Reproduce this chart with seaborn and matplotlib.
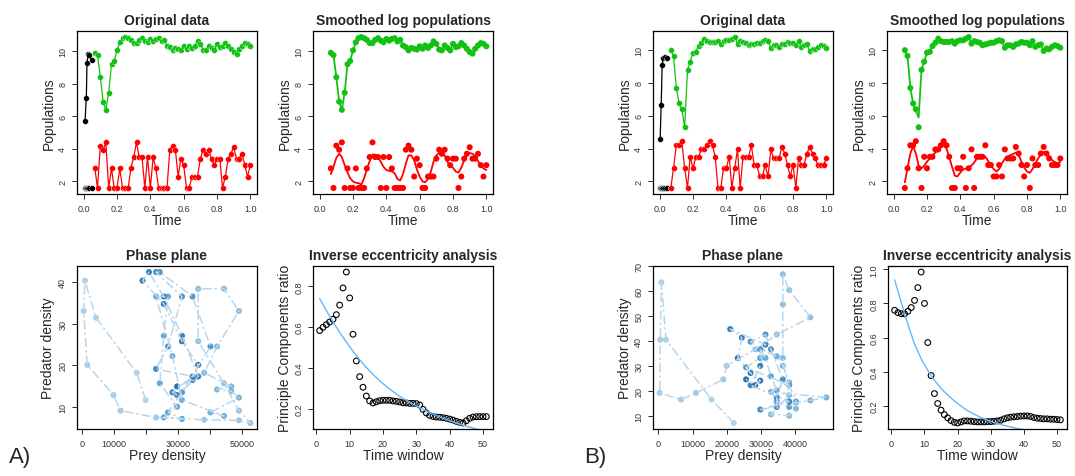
import numpy as np
import pandas as pd
import matplotlib
matplotlib.use("Agg")
import matplotlib.pyplot as plt
from matplotlib.colors import LinearSegmentedColormap
import seaborn as sns

# ---------------- data ----------------
time = [0.067, 0.083, 0.100, 0.117, 0.133, 0.150, 0.167, 0.183, 0.200, 0.217,
        0.233, 0.250, 0.267, 0.283, 0.300, 0.317, 0.333, 0.350, 0.367, 0.383,
        0.400, 0.417, 0.433, 0.450, 0.467, 0.483, 0.500, 0.517, 0.533, 0.550,
        0.567, 0.583, 0.600, 0.617, 0.633, 0.650, 0.667, 0.683, 0.700, 0.717,
        0.733, 0.750, 0.767, 0.783, 0.800, 0.817, 0.833, 0.850, 0.867, 0.883,
        0.900, 0.917, 0.933, 0.950, 0.967, 0.983, 1.000]

# --- panel A ---
black_time_a = [0.008, 0.016, 0.020, 0.028, 0.034, 0.048]
black_prey_a = [5.7, 7.15, 9.3, 9.85, 9.75, 9.45]
black_pred_a = [1.6, 1.6, 1.6, 1.6, 1.6, 1.6]
prey_a = [9.9, 9.75, 8.4, 6.9, 6.4, 7.45, 9.2, 9.4, 10.05, 10.55,
          10.8, 10.87, 10.8, 10.7, 10.5, 10.5, 10.7, 10.8, 10.65, 10.55,
          10.75, 10.65, 10.75, 10.8, 10.6, 10.7, 10.35, 10.25, 10.05, 10.2,
          10.15, 10.1, 10.3, 10.15, 10.35, 10.2, 10.35, 10.6, 10.45, 10.1,
          10.05, 10.35, 10.2, 10.05, 10.45, 10.25, 10.3, 10.5, 10.35, 10.15,
          9.95, 9.85, 10.15, 10.35, 10.5, 10.45, 10.3]
pred_a = [2.8, 1.6, 4.2, 3.95, 4.4, 1.6, 2.8, 1.6, 1.6, 2.8,
          1.6, 1.6, 1.6, 2.8, 3.5, 4.4, 3.5, 3.5, 1.6, 3.5,
          1.6, 3.5, 2.8, 1.6, 1.6, 1.6, 1.6, 3.95, 4.2, 3.95,
          2.3, 3.4, 3.0, 1.6, 1.6, 2.3, 2.3, 2.3, 3.4, 3.95,
          3.7, 3.95, 3.4, 3.0, 3.4, 3.4, 1.6, 2.3, 3.4, 3.7,
          4.1, 3.4, 3.4, 3.7, 3.0, 2.3, 3.0]
prey_smooth_a = prey_a
pred_smooth_a = [2.45, 2.9, 3.45, 3.7, 3.5, 3.0, 2.55, 2.2, 2.0, 1.92,
                 1.9, 1.8, 2.2, 2.75, 3.25, 3.65, 3.65, 3.5, 3.2, 2.9,
                 2.7, 2.65, 2.62, 2.5, 2.15, 2.05, 2.45, 3.1, 3.6, 3.6,
                 3.3, 2.75, 2.3, 2.0, 1.95, 2.15, 2.6, 3.2, 3.6, 3.75,
                 3.75, 3.6, 3.2, 2.95, 2.85, 2.6, 2.55, 2.85, 3.3, 3.6,
                 3.75, 3.7, 3.55, 3.25, 3.0, 2.8, 2.7]
window = list(range(1, 52))
ratio_a = [0.583, 0.599, 0.612, 0.625, 0.638, 0.661, 0.708, 0.792, 0.870, 0.743,
           0.565, 0.434, 0.357, 0.305, 0.262, 0.238, 0.228, 0.234, 0.239, 0.241,
           0.241, 0.241, 0.238, 0.236, 0.233, 0.229, 0.228, 0.226, 0.226, 0.225,
           0.218, 0.197, 0.179, 0.167, 0.162, 0.159, 0.158, 0.156, 0.153, 0.149,
           0.144, 0.138, 0.133, 0.130, 0.141, 0.153, 0.159, 0.161, 0.161, 0.161,
           0.161]
fit_window = [1, 3, 5, 7, 9, 11, 13, 15, 17, 19, 21, 23, 25, 27, 29, 31, 33,
              35, 37, 39, 41, 43, 45, 47, 49, 51]
fit_a = [0.740, 0.681, 0.626, 0.574, 0.527, 0.482, 0.440, 0.402, 0.368, 0.337,
         0.309, 0.284, 0.261, 0.241, 0.222, 0.205, 0.189, 0.174, 0.160, 0.147,
         0.135, 0.124, 0.114, 0.105, 0.096, 0.088]

# --- panel B ---
black_time_b = [0.003, 0.009, 0.015, 0.021, 0.029, 0.043]
black_prey_b = [4.6, 6.64, 9.12, 9.53, 9.59, 9.53]
black_pred_b = [1.6, 1.6, 1.6, 1.6, 1.6, 1.6]
prey_b = [10.0, 9.65, 7.7, 6.75, 6.4, 5.3, 8.8, 9.3, 9.85, 9.9,
          10.25, 10.45, 10.7, 10.55, 10.5, 10.5, 10.5, 10.55, 10.4, 10.55,
          10.6, 10.6, 10.7, 10.8, 10.4, 10.55, 10.5, 10.45, 10.3, 10.35,
          10.4, 10.45, 10.45, 10.55, 10.6, 10.55, 10.15, 10.3, 10.3, 10.2,
          10.35, 10.4, 10.5, 10.45, 10.45, 10.3, 10.55, 10.2, 10.3, 10.35,
          9.95, 10.1, 10.05, 10.2, 10.3, 10.25, 10.15]
pred_b = [1.6, 2.8, 4.2, 4.2, 4.45, 2.8, 1.6, 3.5, 2.8, 3.5,
          3.5, 3.95, 3.95, 4.2, 4.45, 4.2, 3.5, 1.6, 1.6, 2.8,
          2.8, 3.5, 1.6, 2.8, 3.95, 1.6, 3.5, 3.5, 3.5, 4.2,
          3.0, 3.0, 2.3, 2.3, 3.0, 2.3, 3.95, 3.4, 3.4, 3.4,
          4.1, 3.7, 3.0, 2.3, 3.0, 1.6, 3.4, 3.0, 3.0, 3.7,
          4.1, 3.7, 3.4, 3.0, 3.0, 3.0, 3.4]
prey_smooth_b = [10.0, 9.65, 7.7, 6.75, 6.3, 5.9, 8.8, 9.3, 9.85, 9.9,
                 10.25, 10.45, 10.7, 10.55, 10.5, 10.5, 10.5, 10.55, 10.4, 10.55,
                 10.6, 10.6, 10.7, 10.8, 10.4, 10.55, 10.5, 10.45, 10.3, 10.35,
                 10.4, 10.45, 10.45, 10.55, 10.6, 10.55, 10.15, 10.3, 10.3, 10.2,
                 10.35, 10.4, 10.5, 10.45, 10.45, 10.3, 10.55, 10.2, 10.3, 10.35,
                 9.95, 10.1, 10.05, 10.2, 10.3, 10.25, 10.15]
pred_smooth_b = [1.95, 2.8, 3.7, 4.15, 3.7, 2.95, 2.8, 2.95, 3.2, 3.4,
                 3.6, 3.75, 3.9, 4.1, 4.2, 4.0, 3.5, 2.9, 2.35, 2.3,
                 2.55, 2.72, 2.78, 2.85, 2.97, 3.15, 3.4, 3.52, 3.6, 3.5,
                 3.25, 3.0, 2.75, 2.6, 2.75, 3.1, 3.38, 3.5, 3.6, 3.68,
                 3.75, 3.6, 3.2, 2.85, 2.6, 2.52, 2.75, 3.1, 3.4, 3.65,
                 3.8, 3.72, 3.5, 3.3, 3.18, 3.1, 3.2]
ratio_b = [0.760, 0.746, 0.740, 0.739, 0.754, 0.776, 0.818, 0.893, 0.984, 0.800,
           0.571, 0.378, 0.272, 0.214, 0.175, 0.149, 0.130, 0.114, 0.104, 0.100,
           0.106, 0.112, 0.112, 0.110, 0.108, 0.106, 0.106, 0.106, 0.108, 0.108,
           0.110, 0.112, 0.116, 0.124, 0.130, 0.134, 0.136, 0.138, 0.140, 0.141,
           0.141, 0.138, 0.132, 0.128, 0.126, 0.124, 0.124, 0.122, 0.122, 0.120,
           0.118]
fit_b = [0.938, 0.805, 0.677, 0.563, 0.476, 0.408, 0.350, 0.302, 0.264, 0.229,
         0.199, 0.172, 0.151, 0.132, 0.116, 0.103, 0.091, 0.081, 0.072, 0.064,
         0.057, 0.051, 0.046, 0.041, 0.037, 0.033]

time_ticks = [0.0, 0.2, 0.4, 0.6, 0.8, 1.0]
pop_ticks = [2, 4, 6, 8, 10]

# ---------------- style ----------------
sns.set_style("white")
plt.rcParams["font.family"] = ["Liberation Sans", "DejaVu Sans"]

GREEN = "#12c212"
RED = "#ff0000"
LINE_BLUE = "#b9d6ec"
FIT_BLUE = "#63b8ff"
phase_cmap = LinearSegmentedColormap.from_list("ph", ["#b2d3ea", "#6aaed6", "#2272b5"])

W, H = 1075, 477
fig = plt.figure(figsize=(W / 100, H / 100), dpi=100)


def add_ax(l, t, r, b):
    return fig.add_axes([l / W, 1 - b / H, (r - l) / W, (b - t) / H])


def style(ax, title, xlabel, ylabel):
    ax.set_title(title, fontsize=10, fontweight="bold", pad=5)
    ax.set_xlabel(xlabel, fontsize=10, labelpad=0)
    ax.set_ylabel(ylabel, fontsize=10, labelpad=2)
    for s in ax.spines.values():
        s.set_visible(True)
        s.set_linewidth(0.9)
        s.set_color("black")
    ax.tick_params(axis="both", direction="out", length=3.5, width=0.7,
                   labelsize=6.5, labelcolor="#333333", pad=3.5,
                   bottom=True, left=True)
    ax.tick_params(axis="y", labelrotation=90)
    for lab in ax.get_yticklabels():
        lab.set_va("center")


def r_limits(vals):
    lo, hi = min(vals), max(vals)
    r = hi - lo
    return lo - 0.04 * r, hi + 0.04 * r


def time_panel(ax, title, prey, pred, btime=None, bprey=None, bpred=None,
               sprey=None, spred=None):
    if btime is not None:
        sns.lineplot(x=btime, y=bprey, color="black", lw=0.9, ax=ax, sort=False, estimator=None)
        sns.lineplot(x=btime, y=bpred, color="black", lw=0.9, ax=ax, sort=False, estimator=None)
        sns.lineplot(x=time, y=prey, color=GREEN, lw=0.9, ax=ax, sort=False, estimator=None)
        sns.lineplot(x=time, y=pred, color=RED, lw=0.9, ax=ax, sort=False, estimator=None)
        sns.scatterplot(x=btime, y=bprey, color="black", s=18, linewidth=0.35, edgecolor="white", ax=ax)
        sns.scatterplot(x=btime, y=bpred, color="black", s=18, linewidth=0.35, edgecolor="white", ax=ax)
        ew, ec = 0.35, "white"
    else:
        sns.lineplot(x=time, y=sprey, color=GREEN, lw=1.3, ax=ax, sort=False, estimator=None)
        sns.lineplot(x=time, y=spred, color=RED, lw=1.3, ax=ax, sort=False, estimator=None)
        ew, ec = 0, "none"
    sns.scatterplot(x=time, y=prey, color=GREEN, s=19, linewidth=ew, edgecolor=ec, ax=ax)
    sns.scatterplot(x=time, y=pred, color=RED, s=19, linewidth=ew, edgecolor=ec, ax=ax)
    ax.set_xlim(-0.04, 1.04)
    allv = list(prey) + list(pred) + (list(bprey) + list(bpred) if bprey else [])
    ax.set_ylim(*r_limits(allv))
    ax.set_xticks(time_ticks)
    ax.set_xticklabels([f"{v:.1f}" for v in time_ticks])
    ax.set_yticks(pop_ticks)
    ax.set_yticklabels([str(v) for v in pop_ticks])
    style(ax, title, "Time", "Populations")


def phase_panel(ax, sprey, spred, xticks, xlabels, yticks):
    px = list(np.exp(sprey))
    py = list(np.exp(spred))
    idx = list(range(len(px)))
    sns.lineplot(x=px, y=py, sort=False, estimator=None, color=LINE_BLUE, lw=1.1,
                 linestyle=(0, (6, 2, 1.5, 2)), ax=ax)
    sns.scatterplot(x=px, y=py, hue=idx, palette=phase_cmap, hue_norm=(0, len(px) - 1),
                    s=19, linewidth=0, legend=False, ax=ax)
    ax.set_xlim(*r_limits(px))
    ax.set_ylim(*r_limits(py))
    ax.set_xticks(xticks)
    ax.set_xticklabels(xlabels)
    ax.set_yticks(yticks)
    ax.set_yticklabels([str(v) for v in yticks])
    style(ax, "Phase plane", "Prey density", "Predator density")


def ecc_panel(ax, ratio, fit, yticks):
    sns.scatterplot(x=window, y=ratio, facecolor="none", edgecolor="black",
                    linewidth=0.8, s=17, ax=ax)
    sns.lineplot(x=fit_window, y=fit, color=FIT_BLUE, lw=1.0, ax=ax, sort=False, estimator=None)
    ax.set_xlim(*r_limits(window))
    ax.set_ylim(*r_limits(ratio))
    ax.set_xticks([0, 10, 20, 30, 40, 50])
    ax.set_xticklabels(["0", "10", "20", "30", "40", "50"])
    ax.set_yticks(yticks)
    ax.set_yticklabels([f"{v:.1f}" for v in yticks])
    style(ax, "Inverse eccentricity analysis", "Time window", "Principle Components ratio")


# ---------------- panel A ----------------
ax = add_ax(77, 32, 257, 195)
time_panel(ax, "Original data", prey_a, pred_a, black_time_a, black_prey_a, black_pred_a)
ax = add_ax(313, 32, 493, 195)
time_panel(ax, "Smoothed log populations", prey_a, pred_a, sprey=prey_smooth_a, spred=pred_smooth_a)
ax = add_ax(77, 267, 257, 430)
phase_panel(ax, prey_smooth_a, pred_smooth_a,
            [0, 10000, 20000, 30000, 40000, 50000],
            ["0", "10000", "", "30000", "", "50000"], [10, 20, 30, 40])
ax = add_ax(313, 267, 493, 430)
ecc_panel(ax, ratio_a, fit_a, [0.2, 0.4, 0.6, 0.8])

# ---------------- panel B ----------------
ax = add_ax(653, 32, 833, 195)
time_panel(ax, "Original data", prey_b, pred_b, black_time_b, black_prey_b, black_pred_b)
ax = add_ax(887, 32, 1067, 195)
time_panel(ax, "Smoothed log populations", prey_b, pred_b, sprey=prey_smooth_b, spred=pred_smooth_b)
ax = add_ax(653, 267, 833, 430)
phase_panel(ax, prey_smooth_b, pred_smooth_b,
            [0, 10000, 20000, 30000, 40000],
            ["0", "10000", "20000", "30000", "40000"], [10, 20, 30, 40, 50, 60, 70])
ax = add_ax(888, 267, 1067, 430)
ecc_panel(ax, ratio_b, fit_b, [0.2, 0.4, 0.6, 0.8, 1.0])

fig.text(9 / W, 1 - 458 / H, "A)", fontsize=16, va="center", ha="left")
fig.text(584 / W, 1 - 458 / H, "B)", fontsize=16, va="center", ha="left")

fig.savefig("out.png", dpi=100, facecolor="white")
